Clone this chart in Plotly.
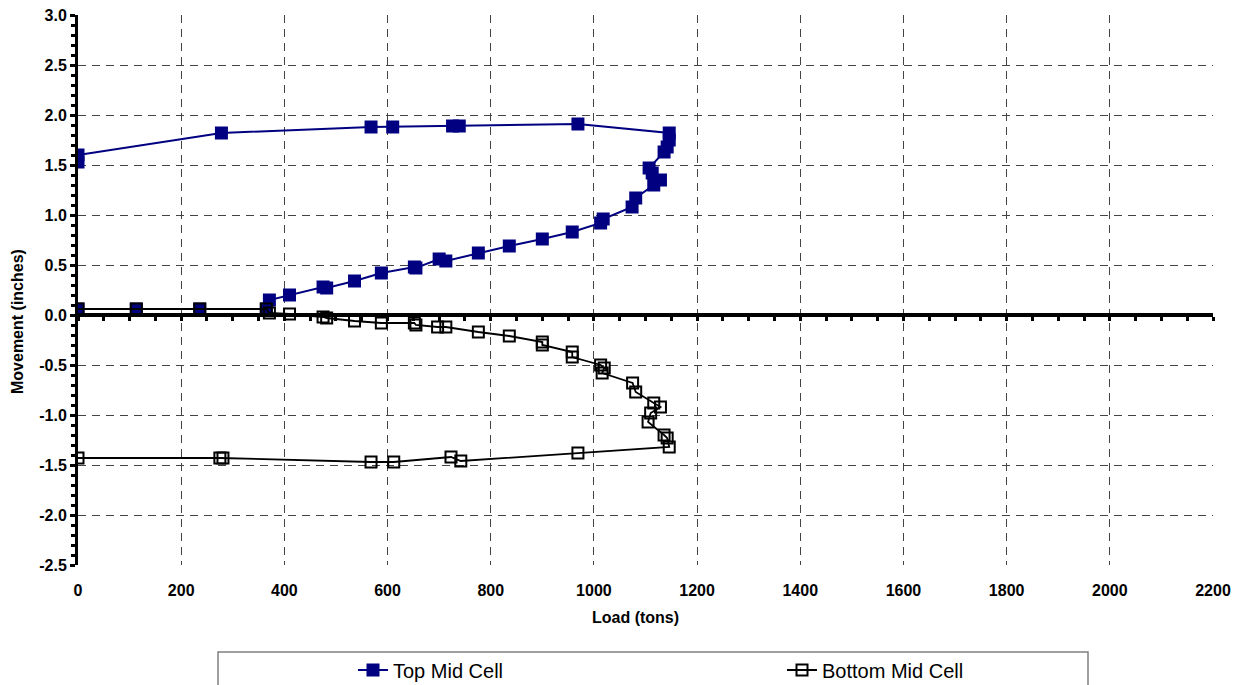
import plotly.graph_objects as go

# ---- data ----
top_load = [0, 113, 236, 365, 371, 410, 475, 482, 536, 588, 652, 655, 700, 713, 776, 836,
            900, 958, 1013, 1018, 1074, 1081, 1116, 1129, 1113, 1107, 1136, 1142, 1146, 1146,
            969, 739, 726, 610, 568, 278, 0, 0]
top_move = [0.06, 0.06, 0.06, 0.06, 0.15, 0.20, 0.28, 0.27, 0.34, 0.42, 0.48, 0.47, 0.56, 0.54,
            0.62, 0.69, 0.76, 0.83, 0.92, 0.96, 1.08, 1.17, 1.30, 1.35, 1.42, 1.47, 1.63, 1.68,
            1.75, 1.82, 1.91, 1.89, 1.89, 1.88, 1.88, 1.82, 1.60, 1.53]

bottom_load = [0, 113, 236, 365, 371, 410, 475, 482, 536, 588, 652, 655, 697, 713, 776, 836,
               900, 900, 958, 958, 1013, 1020, 1016, 1075, 1081, 1116, 1129, 1110, 1105, 1136,
               1142, 1146, 969, 742, 723, 612, 568, 281, 275, 0]
bottom_move = [0.06, 0.06, 0.06, 0.06, 0.02, 0.01, -0.02, -0.03, -0.06, -0.08, -0.08, -0.10,
               -0.12, -0.12, -0.17, -0.21, -0.27, -0.30, -0.37, -0.42, -0.50, -0.53, -0.58,
               -0.68, -0.77, -0.88, -0.92, -0.98, -1.07, -1.20, -1.23, -1.32, -1.38, -1.46,
               -1.42, -1.47, -1.47, -1.43, -1.43, -1.43]

series_names = ["Top Mid Cell", "Bottom Mid Cell"]
x_range = [0, 2200]
y_range = [-2.5, 3.0]
y_tick_vals = [-2.5, -2.0, -1.5, -1.0, -0.5, 0.0, 0.5, 1.0, 1.5, 2.0, 2.5, 3.0]
y_tick_text = ["-2.5", "-2.0", "-1.5", "-1.0", "-0.5", "0.0", "0.5", "1.0", "1.5", "2.0", "2.5", "3.0"]

FONT = "Liberation Sans, Arial, sans-serif"
NAVY = "#000080"
GRID = "#444444"

fig = go.Figure()

fig.add_trace(go.Scatter(
    x=top_load, y=top_move, name=series_names[0], mode="lines+markers",
    line=dict(color=NAVY, width=2),
    marker=dict(symbol="square", size=13, color=NAVY, line=dict(color=NAVY, width=0)),
    xaxis="x", yaxis="y", legend="legend", showlegend=True,
))
fig.add_trace(go.Scatter(
    x=bottom_load, y=bottom_move, name=series_names[1], mode="lines+markers",
    line=dict(color="black", width=1.8),
    marker=dict(symbol="square-open", size=11, color="black", line=dict(color="black", width=2)),
    xaxis="x2", yaxis="y", legend="legend2", showlegend=True,
))

L, R, T, B = 78, 27, 15, 120
W, H = 1240, 685
pw, ph = W - L - R, H - T - B


def px_x(p):
    return (p - L) / pw


def px_y(p):
    return (H - B - p) / ph


fig.update_layout(
    width=W, height=H,
    showlegend=True,
    margin=dict(l=L, r=R, t=T, b=B, autoexpand=False),
    paper_bgcolor="white", plot_bgcolor="white",
    font=dict(family=FONT, color="black"),
    xaxis=dict(
        range=x_range, dtick=200, tick0=0,
        showgrid=True, gridcolor=GRID, gridwidth=1, griddash="8px,6px",
        showline=False, zeroline=False, ticks="", ticklabelstandoff=14,
        tickfont=dict(family=FONT, size=16, color="black", weight="bold"),
        fixedrange=True,
    ),
    xaxis2=dict(
        range=x_range, dtick=200, tick0=0, overlaying="x", anchor="free",
        position=(0 - y_range[0]) / (y_range[1] - y_range[0]),
        showgrid=False, zeroline=False, showticklabels=False,
        showline=True, linecolor="black", linewidth=4,
        ticks="outside", ticklen=4, tickwidth=3, tickcolor="black",
        minor=dict(dtick=50, ticks="outside", ticklen=4, tickwidth=3, tickcolor="black", showgrid=False),
        fixedrange=True,
    ),
    yaxis=dict(
        range=y_range, tickmode="array", tickvals=y_tick_vals, ticktext=y_tick_text,
        showgrid=True, gridcolor=GRID, gridwidth=1, griddash="8px,6px",
        zeroline=False,
        showline=True, linecolor="black", linewidth=3,
        ticks="outside", ticklen=5, tickwidth=3, tickcolor="black",
        minor=dict(dtick=0.1, tick0=0, ticks="outside", ticklen=4, tickwidth=3, tickcolor="black", showgrid=False),
        tickfont=dict(family=FONT, size=16, color="black", weight="bold"),
        fixedrange=True,
    ),
    legend=dict(
        x=px_x(353), y=px_y(670), xanchor="left", yanchor="middle",
        orientation="h", bgcolor="rgba(0,0,0,0)", borderwidth=0,
        font=dict(family=FONT, size=20, color="black"), visible=True,
    ),
    legend2=dict(
        x=px_x(782), y=px_y(670), xanchor="left", yanchor="middle",
        orientation="h", bgcolor="rgba(0,0,0,0)", borderwidth=0,
        font=dict(family=FONT, size=20, color="black"), visible=True,
    ),
    shapes=[dict(
        type="rect", xref="paper", yref="paper",
        x0=px_x(218), x1=px_x(1088), y0=px_y(652), y1=px_y(700),
        line=dict(color="#808080", width=1.5), fillcolor="rgba(0,0,0,0)", layer="below",
    )],
    annotations=[
        dict(text="Movement (inches)", textangle=-90, xref="paper", yref="paper",
             x=px_x(18), y=px_y(322), xanchor="center", yanchor="middle", showarrow=False,
             font=dict(family=FONT, size=16, color="black", weight="bold")),
        dict(text="Load (tons)", xref="paper", yref="paper",
             x=px_x(635), y=px_y(617), xanchor="center", yanchor="middle", showarrow=False,
             font=dict(family=FONT, size=16, color="black", weight="bold")),
    ],
)

fig.write_html("out.html")
